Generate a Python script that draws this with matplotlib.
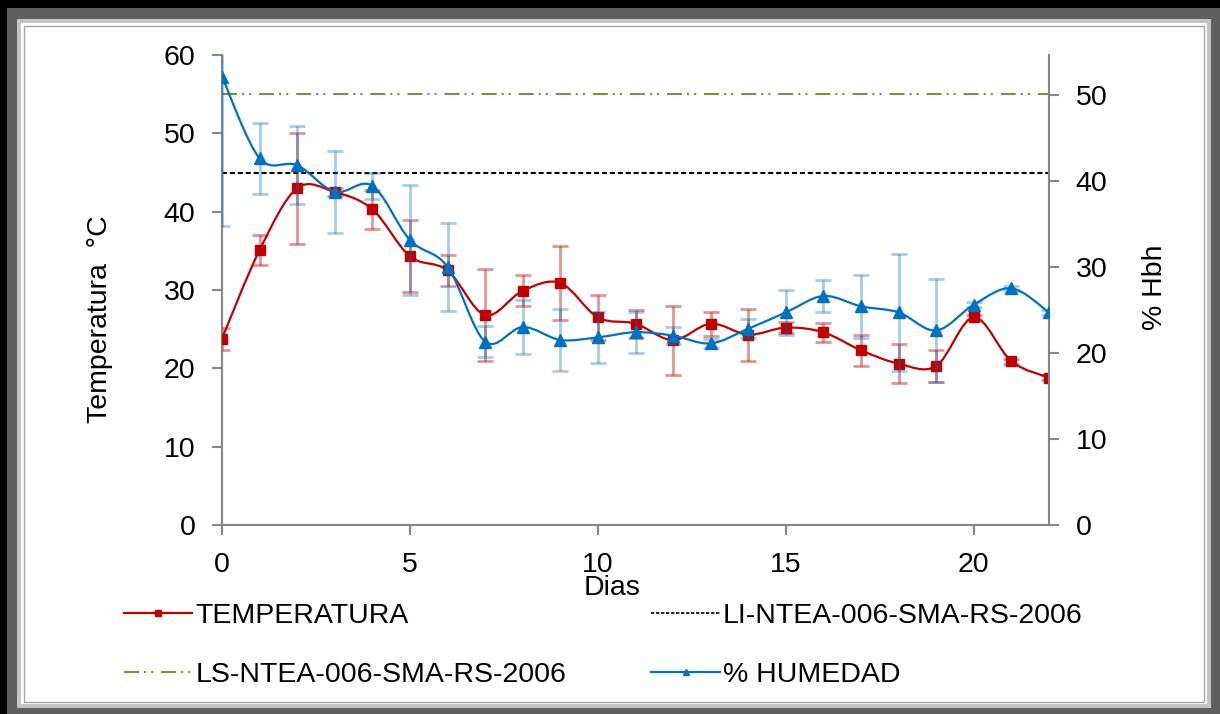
import matplotlib
matplotlib.use("Agg")
import matplotlib.pyplot as plt
from matplotlib.path import Path
from matplotlib.patches import PathPatch, Rectangle
from matplotlib.lines import Line2D

plt.rcParams.update({
    "font.family": ["Liberation Sans", "DejaVu Sans"],
    "font.size": 20.5,
})

# ── datos del compostaje ──
dias = list(range(23))
temperatura = [23.8, 35.1, 43.0, 42.5, 40.3, 34.3, 32.5, 26.8, 29.9, 30.9, 26.5, 25.7,
               23.6, 25.7, 24.3, 25.2, 24.6, 22.3, 20.6, 20.3, 26.5, 20.9, 18.8]
temp_err = [1.4, 1.9, 7.1, 0.5, 2.5, 4.6, 2.0, 5.9, 2.0, 4.7, 2.9, 1.8,
            4.4, 1.55, 3.3, 0.7, 1.2, 2.0, 2.5, 2.1, 0.3, 0.3, 0.3]
humedad = [52.1, 42.6, 41.8, 38.7, 39.4, 33.1, 30.0, 21.3, 23.0, 21.5, 21.8, 22.4,
           22.0, 21.1, 22.8, 24.7, 26.6, 25.4, 24.7, 22.6, 25.6, 27.5, 24.7]
hum_err = [17.4, 4.1, 4.5, 4.8, 1.5, 6.4, 5.1, 1.8, 3.1, 3.6, 3.0, 2.4,
           1.0, 0.5, 1.1, 2.6, 1.9, 3.7, 6.8, 6.0, 0.3, 0.3, 0.3]
limite_inf = 45   # LI-NTEA-006-SMA-RS-2006
limite_sup = 55   # LS-NTEA-006-SMA-RS-2006

ROJO = "#C00000"
AZUL = "#0070C0"
VERDE = "#77933C"
GRIS = "#868686"

W, H = 1220, 714


def curva_suave(x, y):
    """Curva Bezier tipo 'línea suavizada' de Excel que pasa por todos los puntos."""
    n = len(x)
    verts = [(x[0], y[0])]
    codes = [Path.MOVETO]
    for i in range(n - 1):
        x0, y0 = (x[i - 1], y[i - 1]) if i > 0 else (x[i], y[i])
        x3, y3 = (x[i + 2], y[i + 2]) if i + 2 < n else (x[i + 1], y[i + 1])
        c1 = (x[i] + (x[i + 1] - x0) / 6, y[i] + (y[i + 1] - y0) / 6)
        c2 = (x[i + 1] - (x3 - x[i]) / 6, y[i + 1] - (y3 - y[i]) / 6)
        verts += [c1, c2, (x[i + 1], y[i + 1])]
        codes += [Path.CURVE4] * 3
    return Path(verts, codes)


fig = plt.figure(figsize=(W / 100, H / 100), dpi=100, facecolor="black")


def marco(x0, y0, x1, y1, **kw):
    fig.add_artist(Rectangle((x0 / W, 1 - y1 / H), (x1 - x0) / W, (y1 - y0) / H,
                             transform=fig.transFigure, zorder=-10, **kw))


# marco con sombra
marco(7, 8, W, H, facecolor="#5f5f5f", edgecolor="none")
marco(17, 19, 1211, 708, facecolor="#c4c4c4", edgecolor="none")
marco(21, 23, 1207, 704, facecolor="white", edgecolor="none")
marco(24, 26, 1204, 702, facecolor="white", edgecolor="#a6a6a6", linewidth=1)

ax = fig.add_axes([222 / W, 1 - 525 / H, 827 / W, 470 / H])
ax.patch.set_visible(False)
ax2 = ax.twinx()

# temperatura (eje izquierdo)
ax.errorbar(dias, temperatura, yerr=temp_err, fmt="none", ecolor=(0.75, 0.0, 0.0, 0.42),
            elinewidth=2, capsize=6, capthick=2, zorder=2)
ax.add_patch(PathPatch(curva_suave(dias, temperatura), facecolor="none",
                       edgecolor=ROJO, linewidth=1.6, zorder=3))
ax.plot(dias, temperatura, linestyle="none", marker="s", ms=7.5, color=ROJO, zorder=4)

# límites de la norma
ax.axhline(limite_inf, color="black", linewidth=1.5, linestyle=(0, (2.4, 1.4)), zorder=1)
ax.axhline(limite_sup, color=VERDE, linewidth=1.5,
           linestyle=(0, (7.2, 2.4, 1, 2.4, 1, 3.8)), zorder=1)

# humedad (eje derecho)
ax2.errorbar(dias, humedad, yerr=hum_err, fmt="none", ecolor=(0.0, 0.44, 0.75, 0.35),
             elinewidth=2, capsize=6, capthick=2, zorder=2)
ax2.add_patch(PathPatch(curva_suave(dias, humedad), facecolor="none",
                        edgecolor=AZUL, linewidth=1.6, zorder=3))
ax2.plot(dias, humedad, linestyle="none", marker="^", ms=8, color=AZUL, zorder=4)

ax.set_xlim(0, 22)
ax.set_ylim(0, 60)
ax2.set_ylim(0, 54.6)
ax.set_xticks([0, 5, 10, 15, 20])
ax.set_yticks(range(0, 61, 10))
ax2.set_yticks(range(0, 51, 10))

for a in (ax, ax2):
    a.tick_params(axis="both", direction="out", length=7.2, width=1.5, color=GRIS, pad=12)
    for s in a.spines.values():
        s.set_color(GRIS)
        s.set_linewidth(1.5)
    a.spines["top"].set_visible(False)
ax.spines["right"].set_visible(False)
ax2.spines["left"].set_visible(False)
ax2.spines["bottom"].set_visible(False)

ax.set_xlabel("Dias")
ax.xaxis.set_label_coords((612 - 222) / 827, (525 - 575) / 470)
fig.text(100 / W, 1 - 319 / H, "Temperatura  °C", rotation=90, ha="center", va="center")
fig.text(1155 / W, 1 - 287 / H, "% Hbh", rotation=90, ha="center", va="center")

# leyenda en dos columnas
h_temp = Line2D([], [], color=ROJO, linewidth=1.6, marker="s", ms=5)
h_li = Line2D([], [], color="black", linewidth=1.2, linestyle=(0, (2, 1)))
h_ls = Line2D([], [], color=VERDE, linewidth=1.5, linestyle=(0, (7.2, 2.4, 1, 2.4, 1, 3.8)))
h_hum = Line2D([], [], color=AZUL, linewidth=1.6, marker="^", ms=5)
fig.legend([h_temp, h_ls, h_li, h_hum],
           ["TEMPERATURA", "LS-NTEA-006-SMA-RS-2006", "LI-NTEA-006-SMA-RS-2006", "% HUMEDAD"],
           ncol=2, loc="upper left", bbox_to_anchor=(124 / W, 1 - 603 / H),
           frameon=False, borderpad=0, borderaxespad=0, handlelength=2.4,
           handletextpad=0.1, columnspacing=3.0, labelspacing=1.15)

fig.savefig("out.png", dpi=100, facecolor=fig.get_facecolor())
